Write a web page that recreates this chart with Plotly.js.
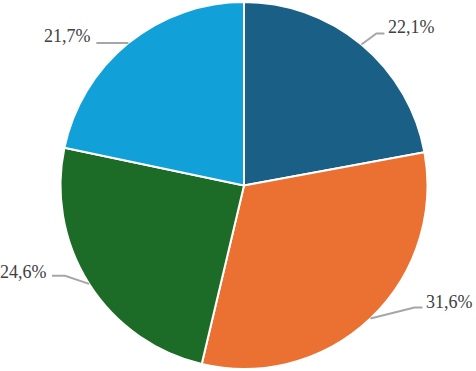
<!DOCTYPE html>
<html>
<head>
<meta charset="utf-8">
<script src="https://cdn.plot.ly/plotly-3.0.1.min.js"></script>
<style>html,body{margin:0;padding:0;background:#fff;}#chart{width:476px;height:371px;}</style>
</head>
<body>
<div id="chart"></div>
<script>
// ---- data ----
const categories = ["A", "B", "C", "D"];
const values = [22.1, 31.6, 24.6, 21.7];
const colors = ["#1a5f86", "#ea7132", "#1c6b27", "#12a0d9"];

// ---- layout constants ----
const W = 476, H = 371;
const cx = 244, cy = 185.5, R = 183.5;
// per-label leader styling (pixel offsets relative to slice edge midpoint)
const leader = [
  {ex: 15, ey: -11, hx: 23, tx: 25, ty: -17, anchor: "left"},
  {ex: 44, ey: -11, hx: 52, tx: 54, ty: -16, anchor: "left"},
  {ex: -24, ey: -8, hx: -37, tx: -40, ty: -12, anchor: "right"},
  {ex: 0, ey: 0, hx: -32, tx: -35, ty: -7, anchor: "right"}
];

const px = x => x / W;
const py = y => 1 - y / H;

const total = values.reduce((a, b) => a + b, 0);
let cum = 0;
const shapes = [], annotations = [];
values.forEach((v, i) => {
  const mid = (cum + v / 2) / total * 2 * Math.PI;
  cum += v;
  const x0 = cx + R * Math.sin(mid), y0 = cy - R * Math.cos(mid);
  const L = leader[i];
  const x1 = x0 + L.ex, y1 = y0 + L.ey, x2 = x0 + L.hx;
  shapes.push({
    type: "path", xref: "paper", yref: "paper",
    path: `M ${px(x0)} ${py(y0)} L ${px(x1)} ${py(y1)} L ${px(x2)} ${py(y1)}`,
    line: {color: "#a6a6a6", width: 2}
  });
  annotations.push({
    xref: "paper", yref: "paper",
    x: px(x0 + L.tx), y: py(y0 + L.ty),
    xanchor: L.anchor, yanchor: "middle",
    text: v.toFixed(1).replace(".", ",") + "%",
    showarrow: false,
    font: {family: "Liberation Serif, Times New Roman, serif", size: 18, color: "#404040"}
  });
});

const trace = {
  type: "pie",
  labels: categories,
  values: values,
  sort: false,
  direction: "clockwise",
  rotation: 0,
  textinfo: "none",
  hoverinfo: "none",
  marker: {colors: colors, line: {color: "#ffffff", width: 2}},
  domain: {x: [(cx - R) / W, (cx + R) / W], y: [1 - (cy + R) / H, 1 - (cy - R) / H]},
  showlegend: false
};

Plotly.newPlot("chart", [trace], {
  width: W, height: H,
  margin: {l: 0, r: 0, t: 0, b: 0},
  paper_bgcolor: "#ffffff",
  showlegend: false,
  shapes: shapes,
  annotations: annotations
}, {displayModeBar: false, staticPlot: true});
</script>
</body>
</html>
